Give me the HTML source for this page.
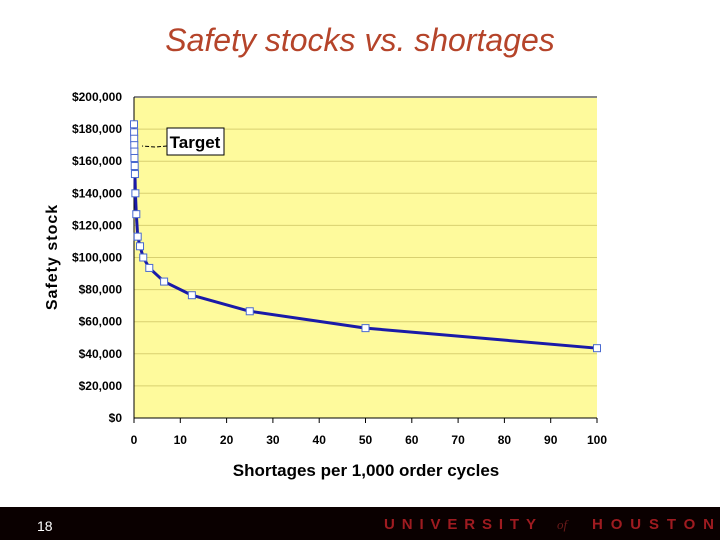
<!DOCTYPE html>
<html><head><meta charset="utf-8"><style>
body{margin:0;width:720px;height:540px;background:#fff;overflow:hidden;font-family:"Liberation Sans",sans-serif;position:relative}
</style></head><body>
<div style="position:absolute;left:0;width:720px;top:22px;text-align:center;font-size:32px;font-style:italic;color:#b5442a">Safety stocks vs. shortages</div>
<svg id="chart" width="720" height="507" style="position:absolute;left:0;top:0"></svg>
<div style="position:absolute;left:0;top:507px;width:720px;height:33px;background:#0a0000"></div>
<div style="position:absolute;left:37px;top:518px;color:#fff;font-size:14px">18</div>
<svg width="340" height="33" style="position:absolute;left:380px;top:507px">
<text x="4" y="22" font-size="15" font-weight="bold" fill="#9e1b20" textLength="152" lengthAdjust="spacing">UNIVERSITY</text>
<text x="557" y="22" font-size="13" font-style="italic" fill="#6a1a1a" font-family="Liberation Serif,serif" transform="translate(-380,0)">of</text>
<text x="212" y="22" font-size="15" font-weight="bold" fill="#9e1b20" textLength="122" lengthAdjust="spacing">HOUSTON</text>
</svg>
<script>
const xValues=[0,0.02,0.04,0.06,0.08,0.1,0.15,0.2,0.3,0.5,0.8,1.3,2,3.3,6.5,12.5,25,50,100];
const yValues=[183000,178000,174000,170000,166000,162000,157000,152000,140000,127000,113000,107000,100000,93500,85000,76500,66500,56000,43500];
const yTicks=[0,20000,40000,60000,80000,100000,120000,140000,160000,180000,200000];
const xTicks=[0,10,20,30,40,50,60,70,80,90,100];
const L=134,R=597,T=97,B=418;
const sx=v=>L+(R-L)*v/100, sy=v=>B-(B-T)*v/200000;
const s=document.getElementById('chart'),NS='http://www.w3.org/2000/svg';
function mk(t,a,p){const e=document.createElementNS(NS,t);for(const k in a)e.setAttribute(k,a[k]);(p||s).appendChild(e);return e;}
let e=mk('rect',{x:L,y:T,width:R-L,height:B-T,fill:'#fefa9c'});


yTicks.forEach(v=>{
 let g=mk('line',{x1:L,x2:R,y1:sy(v),y2:sy(v),stroke:v==200000?'#888':'#d8d070','stroke-width':v==200000?2:1});
 
 
 let t=mk('text',{x:122,y:sy(v)+4,'text-anchor':'end','font-size':12,'font-weight':'bold',fill:'#000'});
 t.textContent='$'+v.toLocaleString('en-US');
 
 
});
xTicks.forEach(v=>{
 mk('line',{x1:sx(v),x2:sx(v),y1:B,y2:B+5,stroke:'#000'});
 let t=mk('text',{x:sx(v),y:B+26,'text-anchor':'middle','font-size':12,'font-weight':'bold'});
 t.textContent=v;
 
 
});
mk('line',{x1:L,x2:R,y1:B,y2:B,stroke:'#000'});
mk('line',{x1:L,x2:L,y1:T,y2:B,stroke:'#000'});
let pts=xValues.map((x,i)=>sx(x)+','+sy(yValues[i])).join(' ');
let ln=mk('polyline',{points:pts,fill:'none',stroke:'#1a1aa8','stroke-width':3,'stroke-linejoin':'round'});


xValues.forEach((x,i)=>{
 let r=mk('rect',{x:sx(x)-3.5,y:sy(yValues[i])-3.5,width:7,height:7,fill:'#fff',stroke:'#4a6ad0','stroke-width':1});
 
 
});
let lb=mk('rect',{x:167,y:128,width:57,height:27,fill:'#fff',stroke:'#000'});


mk('polyline',{points:'167,146 155,147 142,146',fill:'none',stroke:'#000','stroke-dasharray':'4,2'});
let tt=mk('text',{x:195,y:148,'text-anchor':'middle','font-size':17,'font-weight':'bold'});tt.textContent='Target';


let xt=mk('text',{x:366,y:476,'text-anchor':'middle','font-size':17,'font-weight':'bold'});xt.textContent='Shortages per 1,000 order cycles';


let yt=mk('text',{x:0,y:0,'text-anchor':'middle','font-size':16,'font-weight':'bold','letter-spacing':1,transform:'translate(57,257) rotate(-90)'});yt.textContent='Safety stock';


</script>
</body></html>
